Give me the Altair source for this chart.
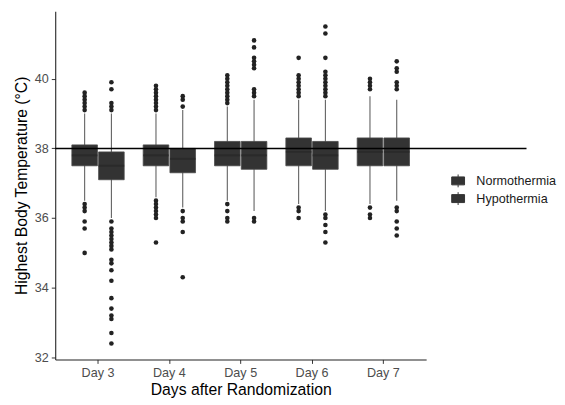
import altair as alt
import pandas as pd

days = ["Day 3", "Day 4", "Day 5", "Day 6", "Day 7"]
groups = ["Normothermia", "Hypothermia"]

norm_lo = [36.5, 36.6, 36.5, 36.4, 36.4]
norm_q1 = [37.5, 37.5, 37.5, 37.5, 37.5]
norm_med = [37.8, 37.8, 37.8, 37.9, 37.9]
norm_q3 = [38.1, 38.1, 38.2, 38.3, 38.3]
norm_hi = [39.0, 39.0, 39.2, 39.4, 39.5]

hypo_lo = [36.0, 36.3, 36.2, 36.2, 36.5]
hypo_q1 = [37.1, 37.3, 37.4, 37.4, 37.5]
hypo_med = [37.5, 37.7, 37.8, 37.8, 37.9]
hypo_q3 = [37.9, 38.0, 38.2, 38.2, 38.3]
hypo_hi = [39.0, 39.1, 39.4, 39.4, 39.4]

out_d3_norm = [39.6, 39.5, 39.4, 39.3, 39.2, 39.1, 36.4, 36.3, 36.2, 35.9, 35.7, 35.0]
out_d3_hypo = [39.9, 39.7, 39.3, 39.2, 39.1, 35.9, 35.7, 35.6, 35.5, 35.4, 35.3, 35.2,
               35.1, 34.8, 34.7, 34.5, 34.2, 33.7, 33.4, 33.2, 33.1, 32.7, 32.4]
out_d4_norm = [39.8, 39.7, 39.6, 39.5, 39.4, 39.3, 39.2, 39.1, 36.5, 36.4, 36.3, 36.2,
               36.1, 36.0, 35.3]
out_d4_hypo = [39.5, 39.4, 39.2, 36.2, 36.0, 35.9, 35.6, 34.3]
out_d5_norm = [40.1, 40.0, 39.9, 39.8, 39.7, 39.6, 39.5, 39.4, 39.3, 36.4, 36.2, 36.0, 35.9]
out_d5_hypo = [41.1, 40.9, 40.6, 40.5, 40.4, 40.3, 39.7, 39.6, 39.5, 36.0, 35.9]
out_d6_norm = [40.6, 40.1, 40.0, 39.9, 39.8, 39.7, 39.6, 39.5, 36.3, 36.2, 36.0]
out_d6_hypo = [41.5, 41.3, 40.6, 40.2, 40.1, 40.0, 39.9, 39.8, 39.7, 39.6, 39.5,
               36.1, 36.0, 35.8, 35.6, 35.3]
out_d7_norm = [40.0, 39.9, 39.8, 39.7, 36.3, 36.1, 36.0]
out_d7_hypo = [40.5, 40.3, 40.2, 39.9, 39.8, 39.7, 36.3, 36.2, 35.9, 35.7, 35.5]

ref_temp = 38

box_rows = []
for i, d in enumerate(days):
    box_rows.append(dict(day=d, group=groups[0], lo=norm_lo[i], q1=norm_q1[i],
                         med=norm_med[i], q3=norm_q3[i], hi=norm_hi[i]))
    box_rows.append(dict(day=d, group=groups[1], lo=hypo_lo[i], q1=hypo_q1[i],
                         med=hypo_med[i], q3=hypo_q3[i], hi=hypo_hi[i]))
boxes = pd.DataFrame(box_rows)

out_lists = [
    ("Day 3", out_d3_norm, out_d3_hypo),
    ("Day 4", out_d4_norm, out_d4_hypo),
    ("Day 5", out_d5_norm, out_d5_hypo),
    ("Day 6", out_d6_norm, out_d6_hypo),
    ("Day 7", out_d7_norm, out_d7_hypo),
]
out_rows = []
for d, n, h in out_lists:
    out_rows += [dict(day=d, group=groups[0], v=v) for v in n]
    out_rows += [dict(day=d, group=groups[1], v=v) for v in h]
outliers = pd.DataFrame(out_rows)

FONT = "Liberation Sans"

x_enc = alt.X("day:N", sort=days,
              scale=alt.Scale(paddingInner=0, paddingOuter=0.1),
              axis=alt.Axis(title="Days after Randomization", labelAngle=0))
xo_enc = alt.XOffset("group:N", sort=groups,
                     scale=alt.Scale(domain=groups, paddingInner=0, paddingOuter=0.333))
y_scale = alt.Scale(domain=[31.94, 41.94], nice=False, zero=False)
y_axis = alt.Axis(title="Highest Body Temperature (°C)", values=[32, 34, 36, 38, 40])

whiskers = alt.Chart(boxes).mark_rule(color="#606060", strokeWidth=1.1).encode(
    x=x_enc, xOffset=xo_enc,
    y=alt.Y("lo:Q", scale=y_scale, axis=y_axis), y2="hi:Q")

box = alt.Chart(boxes).mark_bar(size=26, stroke="#4a4a4a", strokeWidth=0.8, opacity=1).encode(
    x=x_enc, xOffset=xo_enc,
    y=alt.Y("q1:Q", scale=y_scale, axis=y_axis), y2="q3:Q",
    color=alt.Color("group:N", sort=groups,
                    scale=alt.Scale(domain=groups, range=["#333333", "#333333"]),
                    legend=alt.Legend(title=None, orient="none", legendX=402, legendY=165,
                                      symbolType="M-1,-0.62L1,-0.62L1,0.62L-1,0.62Z M0,-1L0,-0.62 M0,0.62L0,1",
                                      symbolSize=170, symbolStrokeColor="#333333",
                                      symbolStrokeWidth=1, symbolFillColor="#333333",
                                      labelFontSize=12.8, labelFont=FONT, labelColor="#1a1a1a",
                                      labelOffset=11, rowPadding=-1)))

median = alt.Chart(boxes).mark_tick(size=26, thickness=2, color="#262626").encode(
    x=x_enc, xOffset=xo_enc, y=alt.Y("med:Q", scale=y_scale, axis=y_axis))

points = alt.Chart(outliers).mark_circle(size=22, color="#222222", opacity=1).encode(
    x=x_enc, xOffset=xo_enc, y=alt.Y("v:Q", scale=y_scale, axis=y_axis))

hline = alt.Chart(pd.DataFrame({"t": [ref_temp]})).mark_rule(color="black", strokeWidth=1.5).encode(
    y=alt.Y("t:Q", scale=y_scale, axis=y_axis), x=alt.value(0), x2=alt.value(479))

chart = alt.layer(whiskers, box, median, points, hline).properties(
    width=377, height=354,
    padding={"left": 5, "top": 0, "right": 0, "bottom": 0},
).configure_view(stroke=None).configure_axis(
    grid=False, domainColor="#222222", domainWidth=1.1, tickColor="#333333", tickSize=4,
    labelColor="#4d4d4d", labelFontSize=12.8, labelFont=FONT, labelPadding=3,
    titleFont=FONT, titleFontSize=16, titleFontWeight="normal", titleColor="#000000",
).configure_axisX(titlePadding=3).configure_axisY(titlePadding=5)

chart.save("out.html", embed_options={"renderer": "svg", "actions": False})
